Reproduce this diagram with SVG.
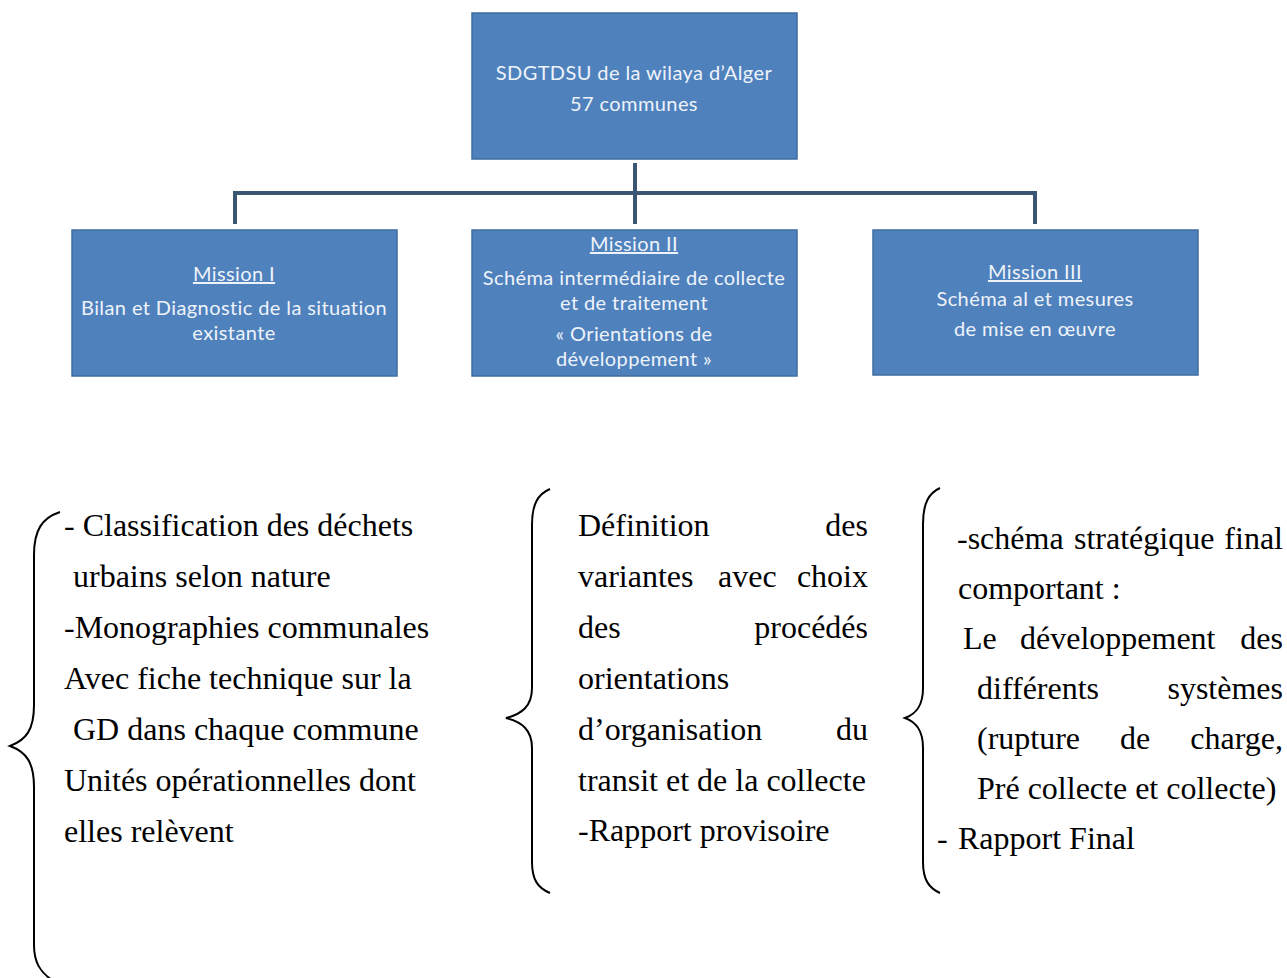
<svg xmlns="http://www.w3.org/2000/svg" width="1287" height="978" viewBox="0 0 1287 978">
  <style>
    .box { fill: #4f81bd; stroke: #3f6c9f; stroke-width: 1.5; }
    .bt { font-family: Lato, "Open Sans", sans-serif; font-size: 20px; letter-spacing: 0.4px; fill: #eef3fa; text-anchor: middle; }
    .ttl { text-decoration: underline; }
    .link { fill: none; stroke: #3b5672; stroke-width: 4; }
    .brace { fill: none; stroke: #000; stroke-width: 2; }
    .tx { font-family: "Liberation Serif", "Times New Roman", serif; font-size: 32px; fill: #000; }
    .end { text-anchor: end; }
  </style>
  <rect width="1287" height="978" fill="#fff"/>

  <!-- tree connectors -->
  <g id="connectors">
    <path class="link" d="M635 163 V224"/>
    <path class="link" d="M233 193 H1037"/>
    <path class="link" d="M235 191 V224"/>
    <path class="link" d="M1035 191 V224"/>
  </g>

  <g id="root">
    <rect class="box" x="472" y="13" width="325" height="146"/>
    <text class="bt" x="634" y="80">SDGTDSU de la wilaya d’Alger</text>
    <text class="bt" x="634" y="111">57 communes</text>
  </g>

  <g id="mission1">
    <rect class="box" x="72" y="230" width="325" height="146"/>
    <text class="bt ttl" x="234" y="281">Mission I</text>
    <text class="bt" x="234" y="315">Bilan et Diagnostic de la situation</text>
    <text class="bt" x="234" y="340">existante</text>
  </g>

  <g id="mission2">
    <rect class="box" x="472" y="230" width="325" height="146"/>
    <text class="bt ttl" x="634" y="251">Mission II</text>
    <text class="bt" x="634" y="285">Schéma intermédiaire de collecte</text>
    <text class="bt" x="634" y="310">et de traitement</text>
    <text class="bt" x="634" y="341">« Orientations de</text>
    <text class="bt" x="634" y="366">développement »</text>
  </g>

  <g id="mission3">
    <rect class="box" x="873" y="230" width="325" height="145"/>
    <text class="bt ttl" x="1035" y="279">Mission III</text>
    <text class="bt" x="1035" y="306">Schéma al et mesures</text>
    <text class="bt" x="1035" y="336">de mise en œuvre</text>
  </g>

  <!-- Mission I details -->
  <g id="details1">
    <path class="brace" d="M60 512 C42 518 34 530 34 555 V705 C34 730 26 740 10 746 C26 752 34 762 34 787 V945 C34 962 40 972 52 980"/>
    <text class="tx" x="64" y="536">- Classification des déchets</text>
    <text class="tx" x="73" y="587">urbains selon nature</text>
    <text class="tx" x="64" y="638">-Monographies communales</text>
    <text class="tx" x="64" y="689">Avec fiche technique sur la</text>
    <text class="tx" x="73" y="740">GD dans chaque commune</text>
    <text class="tx" x="64" y="791">Unités opérationnelles dont</text>
    <text class="tx" x="64" y="842">elles relèvent</text>
  </g>

  <!-- Mission II details -->
  <g id="details2">
    <path class="brace" d="M550 489 C538 494 532 504 532 525 V688 C532 706 522 714 506 718 C522 722 532 730 532 748 V862 C532 880 538 888 550 893"/>
    <text class="tx" x="578" y="536">Définition</text>
    <text class="tx end" x="868" y="536">des</text>
    <text class="tx" x="578" y="587">variantes</text>
    <text class="tx" x="718" y="587">avec</text>
    <text class="tx end" x="868" y="587">choix</text>
    <text class="tx" x="578" y="638">des</text>
    <text class="tx end" x="868" y="638">procédés</text>
    <text class="tx" x="578" y="689">orientations</text>
    <text class="tx" x="578" y="740">d’organisation</text>
    <text class="tx end" x="868" y="740">du</text>
    <text class="tx" x="578" y="791">transit et de la collecte</text>
    <text class="tx" x="578" y="841">-Rapport provisoire</text>
  </g>

  <!-- Mission III details -->
  <g id="details3">
    <path class="brace" d="M940 488 C929 493 923 503 923 524 V688 C923 706 916 714 905 718 C916 722 923 730 923 748 V862 C923 880 929 888 940 893"/>
    <text class="tx" x="957" y="549">-schéma</text>
    <text class="tx" x="1074" y="549">stratégique</text>
    <text class="tx end" x="1283" y="549">final</text>
    <text class="tx" x="958" y="599">comportant :</text>
    <text class="tx" x="963" y="649">Le</text>
    <text class="tx" x="1020" y="649">développement</text>
    <text class="tx end" x="1283" y="649">des</text>
    <text class="tx" x="977" y="699">différents</text>
    <text class="tx end" x="1283" y="699">systèmes</text>
    <text class="tx" x="977" y="749">(rupture</text>
    <text class="tx" x="1120" y="749">de</text>
    <text class="tx end" x="1283" y="749">charge,</text>
    <text class="tx" x="977" y="799">Pré collecte et collecte)</text>
    <text class="tx" x="937" y="849">-</text>
    <text class="tx" x="958" y="849">Rapport Final</text>
  </g>
</svg>
